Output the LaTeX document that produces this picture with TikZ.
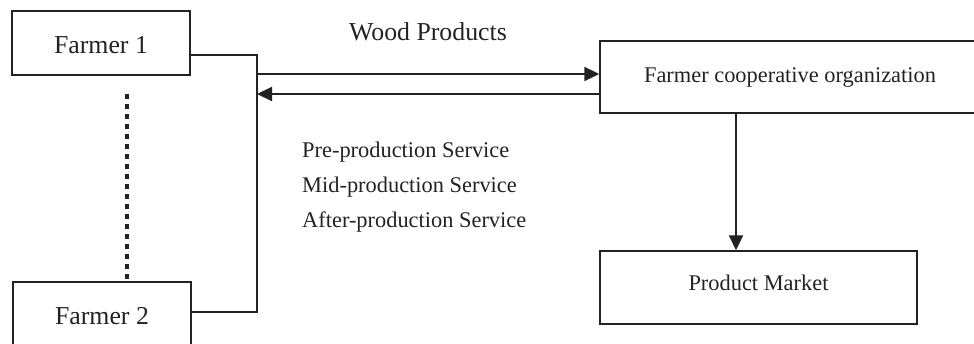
\documentclass[tikz,border=0pt]{standalone}
\usepackage{fontspec}
\setmainfont{Liberation Serif}
\usetikzlibrary{arrows.meta}
\definecolor{ink}{HTML}{222222}
\begin{document}
\begin{tikzpicture}[x=1pt,y=-1pt,
  box/.style={draw=ink, line width=1.4pt, rectangle, inner sep=0pt, text=ink},
  bigtxt/.style={font=\fontsize{25.8}{30}\selectfont},
  smalltxt/.style={font=\fontsize{22.4}{26}\selectfont},
  link/.style={draw=ink, line width=1.3pt},
  flow/.style={draw=ink, line width=2pt, -{Triangle[length=15pt,width=14pt]}},
  dotline/.style={draw=ink, line width=4.5pt, dash pattern=on 4.5pt off 5.5pt}]
\useasboundingbox (0,0) rectangle (974,343);
\begin{scope}
\clip (0,0) rectangle (974,343);

% farmer boxes
\node[box, bigtxt, minimum width=178pt, minimum height=64pt, text height=20pt, text depth=0pt]
  (f1) at (101,43) {Farmer 1};
\node[box, bigtxt, minimum width=178pt, minimum height=64pt, text height=20pt, text depth=0pt]
  (f2) at (102,314) {Farmer 2};

% cooperative and market
\node[box, smalltxt, minimum width=380pt, minimum height=72pt, text height=10pt, text depth=0pt]
  (coop) at (790,77) {Farmer cooperative organization};
\node[box, smalltxt, minimum width=317pt, minimum height=73pt, text height=5pt, text depth=0pt]
  (market) at (758.5,287.5) {Product Market};

% farmers joined on one vertical bus
\coordinate (jt) at (257,55);
\coordinate (jb) at (257,312);
\draw[link] ([yshift=-12pt]f1.east) -- (jt) -- (jb) -- (f2.east |- jb);

% more farmers in between
\coordinate (d1) at (127,94);
\coordinate (d2) at (127,279);
\draw[dotline] (d1) -- (d2);

% exchange between farmers and cooperative
\coordinate (a1) at (257,74);
\coordinate (a2) at (257,94);
\draw[flow] (a1) -- (coop.west |- a1);
\draw[flow] (coop.west |- a2) -- (a2);

% cooperative to market
\coordinate (down) at (736,0);
\draw[flow] (coop.south -| down) -- (market.north -| down);

% labels
\node[bigtxt, text=ink, anchor=base, inner sep=0pt] (wood) at (428,40) {Wood Products};
\node[smalltxt, text=ink, anchor=base west, inner sep=0pt] (pre) at (302,157) {Pre-production Service};
\node[smalltxt, text=ink, anchor=base west, inner sep=0pt] (mid) at (302,192) {Mid-production Service};
\node[smalltxt, text=ink, anchor=base west, inner sep=0pt] (after) at (302,227) {After-production Service};
\end{scope}
\end{tikzpicture}
\end{document}
